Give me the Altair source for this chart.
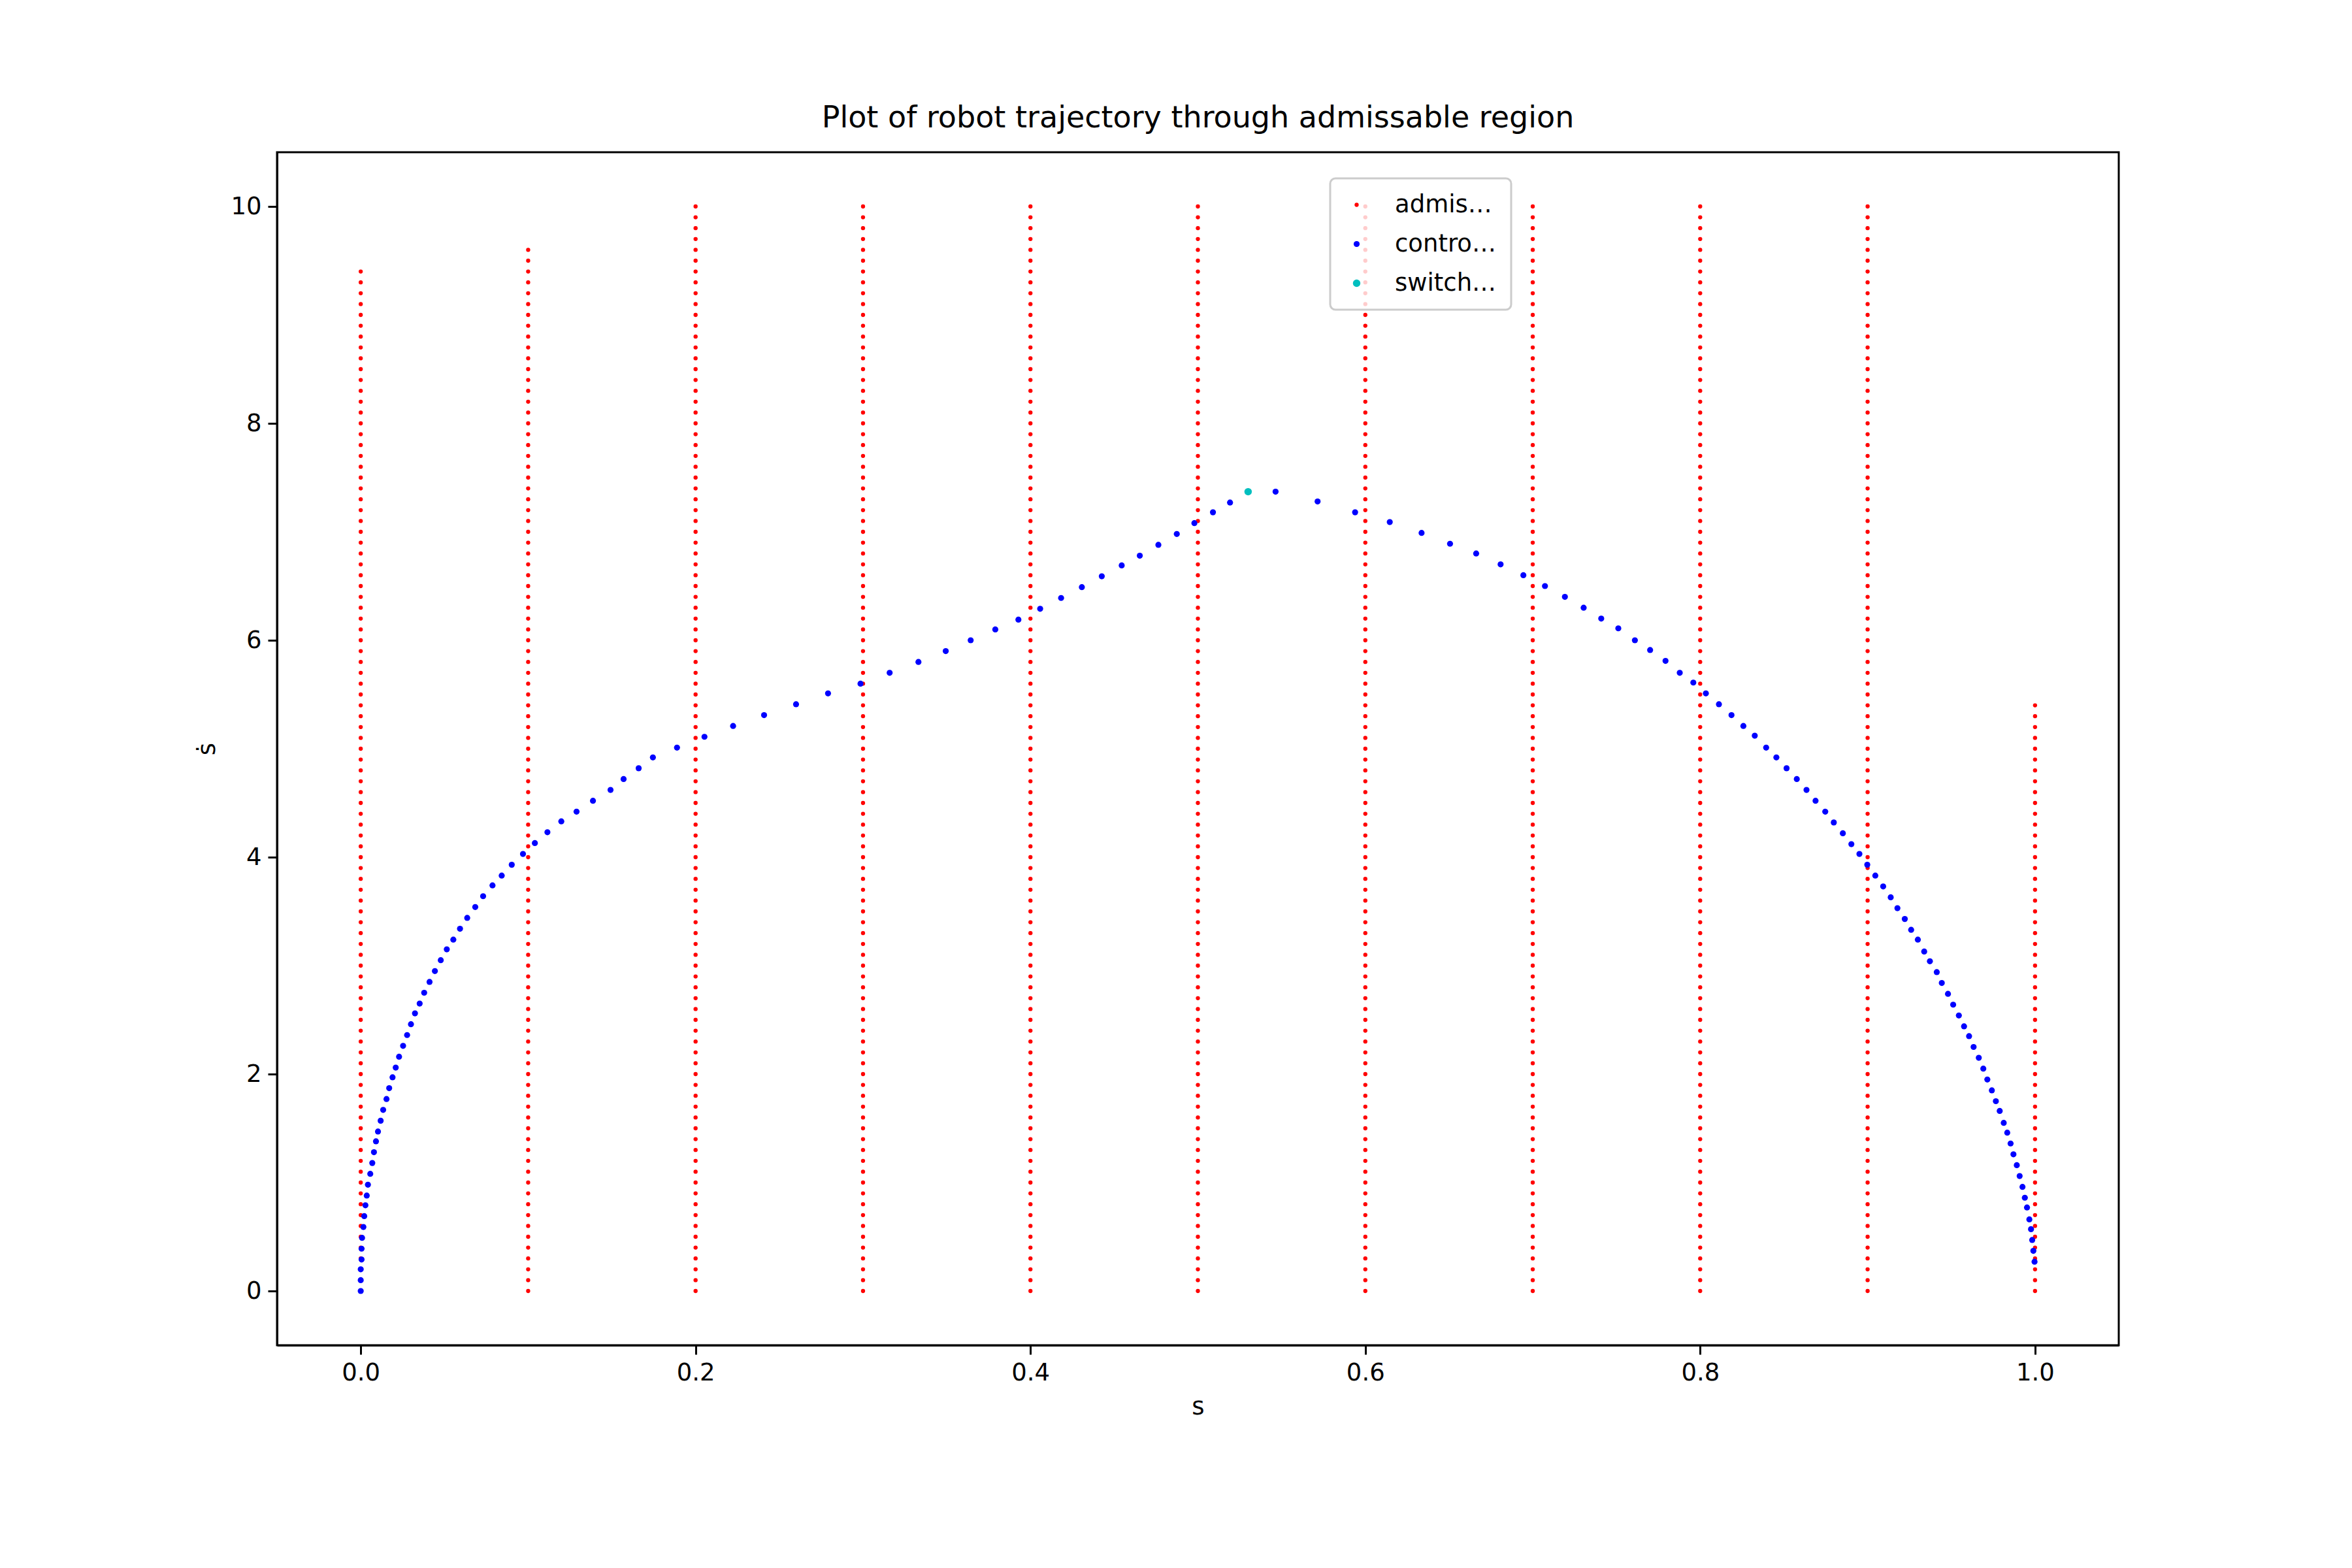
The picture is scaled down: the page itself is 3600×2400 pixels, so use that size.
import altair as alt
import numpy as np
import pandas as pd

# admissable region: one column of points per grid s value, up to its top sdot
grid_s = [0.0, 0.1, 0.2, 0.3, 0.4, 0.5, 0.6, 0.7, 0.8, 0.9, 1.0]
grid_top = [9.4, 9.6, 10.0, 10.0, 10.0, 10.0, 10.0, 10.0, 10.0, 10.0, 5.4]
grid_step = 0.1

# controlled trajectory, accelerating branch
acc_s = [0, 0, 0, 0.0005, 0.0005, 0.0008, 0.0016, 0.0021, 0.0028, 0.0036,
         0.0043, 0.0057, 0.0069, 0.0079, 0.0091, 0.0103, 0.0119, 0.0134, 0.0154, 0.0170,
         0.0190, 0.0209, 0.0229, 0.0253, 0.0277, 0.0300, 0.0324, 0.0352, 0.0379, 0.0411,
         0.0443, 0.0478, 0.0514, 0.0553, 0.0593, 0.0636, 0.0684, 0.0731, 0.0787, 0.0842,
         0.0902, 0.0969, 0.1040, 0.1115, 0.1198, 0.1289, 0.1387, 0.1492, 0.157, 0.166,
         0.1745, 0.1889, 0.2053, 0.2224, 0.2409, 0.2600, 0.2791, 0.2985, 0.3159, 0.3331,
         0.3494, 0.3643, 0.3790, 0.3928, 0.4058, 0.4183, 0.4307, 0.4426, 0.4545, 0.4653,
         0.4764, 0.4874, 0.4979, 0.5090, 0.5192]
acc_sd = [0, 0.10, 0.20, 0.29, 0.39, 0.49, 0.59, 0.69, 0.79, 0.88,
          0.98, 1.08, 1.18, 1.28, 1.38, 1.47, 1.57, 1.67, 1.77, 1.87,
          1.97, 2.06, 2.16, 2.26, 2.36, 2.46, 2.56, 2.65, 2.75, 2.85,
          2.95, 3.05, 3.15, 3.24, 3.34, 3.44, 3.54, 3.64, 3.74, 3.83,
          3.93, 4.03, 4.13, 4.23, 4.33, 4.42, 4.52, 4.62, 4.72, 4.82,
          4.92, 5.01, 5.11, 5.21, 5.31, 5.41, 5.51, 5.60, 5.70, 5.80,
          5.90, 6.00, 6.10, 6.19, 6.29, 6.39, 6.49, 6.59, 6.69, 6.78,
          6.88, 6.98, 7.08, 7.18, 7.27]

# decelerating branch
dec_s = [0.5464, 0.5715, 0.5939, 0.6146, 0.6336, 0.6506, 0.6662, 0.6808, 0.6944, 0.7073,
         0.7192, 0.7304, 0.7409, 0.7511, 0.7610, 0.7701, 0.7793, 0.7878, 0.7959, 0.8034,
         0.8112, 0.8187, 0.8258, 0.8326, 0.8394, 0.8455, 0.8516, 0.8577, 0.8635, 0.8689,
         0.8747, 0.8798, 0.8852, 0.8903, 0.8951, 0.8998, 0.9046, 0.9093, 0.9138, 0.9178,
         0.9222, 0.9260, 0.9300, 0.9338, 0.9372, 0.9413, 0.9443, 0.9480, 0.9511, 0.9545,
         0.9576, 0.9606, 0.9633, 0.9664, 0.9691, 0.9715, 0.9742, 0.9766, 0.9789, 0.9813,
         0.9834, 0.9854, 0.9871, 0.9891, 0.9908, 0.9925, 0.9939, 0.9952, 0.9966, 0.9976,
         0.9983, 0.9990, 0.9997]
dec_sd = [7.37, 7.28, 7.18, 7.09, 6.99, 6.89, 6.80, 6.70, 6.60, 6.50,
          6.40, 6.30, 6.20, 6.11, 6.00, 5.91, 5.81, 5.70, 5.61, 5.51,
          5.41, 5.31, 5.21, 5.12, 5.01, 4.92, 4.82, 4.72, 4.62, 4.52,
          4.42, 4.32, 4.22, 4.12, 4.03, 3.93, 3.83, 3.73, 3.63, 3.53,
          3.43, 3.33, 3.24, 3.13, 3.04, 2.94, 2.84, 2.74, 2.64, 2.54,
          2.44, 2.35, 2.25, 2.15, 2.05, 1.95, 1.85, 1.75, 1.66, 1.55,
          1.46, 1.36, 1.26, 1.16, 1.06, 0.96, 0.86, 0.77, 0.66, 0.57,
          0.47, 0.37, 0.27]

switch_s = [0.530]
switch_sd = [7.37]

SERIES = ["admissable region", "controlled trajectory", "switching points"]

region = []
for s, top in zip(grid_s, grid_top):
    for sd in np.arange(0, top + 1e-9, grid_step):
        region.append({"s": s, "sd": round(sd, 3), "series": SERIES[0]})

df = pd.concat([
    pd.DataFrame(region),
    pd.DataFrame({"s": acc_s + dec_s, "sd": acc_sd + dec_sd, "series": SERIES[1]}),
    pd.DataFrame({"s": switch_s, "sd": switch_sd, "series": SERIES[2]}),
], ignore_index=True)

FONT = "DejaVu Sans"

chart = (
    alt.Chart(df, title=alt.Title(
        "Plot of robot trajectory through admissable region",
        fontSize=46, fontWeight="normal", font=FONT, offset=28, color="black"))
    .mark_circle(opacity=1)
    .encode(
        x=alt.X("s:Q", title="s",
                scale=alt.Scale(domain=[-0.05, 1.05], nice=False, zero=False),
                axis=alt.Axis(values=[0, 0.2, 0.4, 0.6, 0.8, 1.0], format=".1f")),
        y=alt.Y("sd:Q", title="ṡ",
                scale=alt.Scale(domain=[-0.5, 10.5], nice=False, zero=False),
                axis=alt.Axis(values=[0, 2, 4, 6, 8, 10], format="d")),
        color=alt.Color("series:N", sort=SERIES, title=None,
                        scale=alt.Scale(domain=SERIES, range=["#ff0000", "#0000ff", "#00bfbf"])),
        size=alt.Size("series:N", sort=SERIES, title=None,
                      scale=alt.Scale(domain=SERIES, range=[40, 130, 1200])),
        order=alt.Order("series:N"),
    )
    .properties(width=2819, height=1826, background="white",
                padding={"left": 290, "top": 150, "right": 20, "bottom": 20})
    .configure_axis(
        grid=False, domainColor="black", tickColor="black", domainWidth=3, tickWidth=3,
        tickSize=14, labelFontSize=37, titleFontSize=37, labelFont=FONT, titleFont=FONT,
        labelColor="black", titleColor="black", titleFontWeight="normal", labelPadding=10,
        titlePadding=16,
    )
    .configure_view(stroke="black", strokeWidth=3)
    .configure_legend(
        orient="none", legendX=1612, legendY=40, labelFontSize=37, labelFont=FONT,
        labelColor="black", strokeColor="#cccccc", strokeWidth=3, cornerRadius=8,
        fillColor="rgba(255,255,255,0.8)", padding=22, rowPadding=22, labelOffset=40,
        symbolOpacity=1,
    )
)

chart.save("out.html", embed_options={"renderer": "svg", "actions": False})
